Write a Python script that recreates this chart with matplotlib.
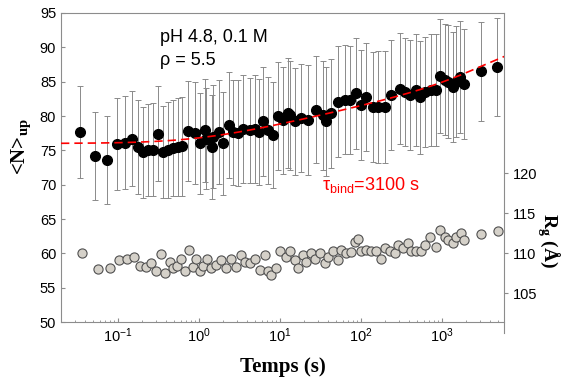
import numpy as np
import matplotlib.pyplot as plt

plt.rcParams['font.family'] = ['Liberation Sans', 'DejaVu Sans']
plt.rcParams['mathtext.fontset'] = 'custom'
plt.rcParams['mathtext.rm'] = 'Liberation Sans'
plt.rcParams['mathtext.bf'] = 'Liberation Serif:bold'

# <N>_up vs temps (points noirs + barres d'erreur)
t_n = [0.034, 0.053, 0.074, 0.097, 0.122, 0.150, 0.178, 0.208, 0.237, 0.276,
       0.318, 0.360, 0.418, 0.482, 0.55, 0.63, 0.74, 0.89, 1.03, 1.19,
       1.24, 1.46, 1.49, 1.78, 2.00, 2.37, 2.65, 3.06, 3.52, 4.27,
       4.91, 5.55, 6.22, 7.17, 8.27, 9.53, 11.0, 12.7, 13.3, 15.3,
       18.5, 22.4, 28.4, 34.3, 37.7, 43.5, 52.5, 63.4, 73.1, 88.5,
       102, 118, 142, 164, 198, 239, 303, 349, 403, 487,
       535, 617, 746, 861, 945, 1090, 1200, 1380, 1520, 1670,
       1880, 3090, 4880]
n_up = [77.6, 74.2, 73.6, 75.9, 76.1, 76.7, 75.5, 74.7, 75.0, 75.1,
        77.4, 74.7, 75.0, 75.4, 75.5, 75.6, 77.8, 77.5, 76.0, 77.9,
        76.7, 75.5, 77.0, 77.7, 76.0, 78.7, 77.6, 77.5, 78.1, 77.9,
        78.1, 77.7, 79.2, 77.9, 77.2, 80.0, 79.4, 80.4, 80.1, 79.2,
        79.7, 79.4, 80.9, 80.1, 79.2, 80.4, 82.1, 82.4, 82.3, 83.3,
        81.6, 82.8, 81.3, 81.3, 81.3, 83.0, 84.0, 83.5, 83.0, 83.8,
        82.7, 83.5, 83.8, 83.8, 85.8, 85.3, 85.0, 84.2, 85.0, 85.7,
        84.6, 86.5, 87.1]
n_err = [6.7, 6.4, 6.4, 6.7, 6.8, 6.9, 6.8, 6.6, 6.7, 6.8,
         6.9, 6.7, 7.0, 7.0, 7.1, 7.2, 7.3, 7.4, 7.3, 7.5,
         7.4, 7.6, 7.5, 7.6, 7.5, 7.7, 7.6, 7.7, 7.8, 7.6,
         7.8, 7.7, 7.9, 7.8, 7.7, 7.9, 7.8, 8.0, 7.9, 7.8,
         7.9, 8.0, 7.8, 7.9, 8.0, 7.9, 8.1, 8.0, 7.9, 8.1,
         8.0, 7.9, 8.0, 8.1, 8.2, 8.0, 8.1, 7.9, 8.0, 8.1,
         8.2, 8.0, 8.1, 8.2, 8.3, 8.1, 8.2, 8.0, 8.1, 8.2,
         8.0, 7.2, 7.1]

# Rg vs temps (points gris, axe de droite)
t_rg = [0.036, 0.057, 0.080, 0.104, 0.130, 0.159, 0.187, 0.226, 0.261, 0.300,
        0.340, 0.388, 0.439, 0.482, 0.546, 0.611, 0.672, 0.759, 0.851, 0.937,
        1.03, 1.13, 1.28, 1.41, 1.65, 1.91, 2.20, 2.53, 2.92, 3.37,
        3.70, 4.26, 4.91, 5.66, 6.53, 7.17, 7.90, 9.10, 10.2, 12.1,
        13.3, 15.3, 16.8, 19.4, 21.4, 24.6, 27.0, 31.2, 36.0, 39.5,
        45.5, 52.5, 57.8, 66.6, 76.7, 84.3, 92.7, 102, 118, 136,
        156, 180, 198, 228, 263, 289, 333, 384, 422, 487,
        561, 617, 711, 861, 945, 1090, 1200, 1380, 1520, 1750,
        1920, 3090, 4970]
rg = [110.0, 108.0, 108.1, 109.1, 109.2, 109.5, 108.4, 108.3, 108.8, 107.7,
      109.9, 107.5, 108.9, 108.1, 108.4, 109.3, 107.8, 110.4, 108.3, 109.2,
      107.7, 108.4, 109.3, 108.1, 108.5, 109.1, 108.1, 109.2, 108.3, 109.8,
      108.9, 108.7, 109.3, 107.9, 109.8, 107.7, 107.3, 108.1, 110.2, 109.5,
      110.2, 109.1, 108.1, 109.8, 108.9, 110.0, 109.3, 110.0, 108.8, 109.5,
      110.2, 109.1, 110.4, 110.0, 110.1, 111.4, 111.8, 110.2, 110.4, 110.2,
      110.2, 109.3, 110.6, 110.2, 110.0, 111.0, 110.6, 111.2, 110.2, 110.2,
      110.2, 111.0, 112.0, 110.7, 112.9, 112.0, 111.6, 111.2, 112.0, 112.5,
      111.6, 112.4, 112.8]

# paramètres de l'ajustement (ligne rouge)
n0, k_log, a_exp, tau_bind = 76.0, 2.7, 2.9, 3100.0

spine_col = '#8c8c8c'

fig = plt.figure(figsize=(5.65, 3.82), dpi=100)
ax = fig.add_axes([0.108, 0.157, 0.784, 0.809])
ax2 = fig.add_axes([0.108, 0.128, 0.784, 0.838])

ax.errorbar(t_n, n_up, yerr=n_err, fmt='o', color='black', ms=7,
            ecolor='#8a8a8a', elinewidth=0.7, capsize=2.5, capthick=0.7, zorder=3)

t_fit = np.logspace(np.log10(0.02), np.log10(6000), 300)
n_fit = n0 + k_log * np.log10(1 + t_fit) + a_exp * (1 - np.exp(-t_fit / tau_bind))
ax.plot(t_fit, n_fit, color='red', lw=1.2, ls=(0, (5, 3)), zorder=4)

ax.set_xscale('log')
ax.set_xlim(0.02, 5900)
ax.set_ylim(50, 95)
ax.set_yticks(np.arange(50, 96, 5))
ax.set_xticks([0.1, 1, 10, 100, 1000])
ax.tick_params(which='both', direction='in', color=spine_col, labelsize=10.5)
ax.tick_params(which='major', length=3)
ax.tick_params(which='minor', length=1.5)
ax.spines['right'].set_visible(False)
for s in ['left', 'top', 'bottom']:
    ax.spines[s].set_color(spine_col)

ax2.plot(t_rg, rg, 'o', mfc='#d5d1c9', mec='#505050', mew=0.8, ms=6.6, zorder=3)
ax2.set_xscale('log')
ax2.set_xlim(0.02, 5900)
ax2.set_ylim(100, 140)
ax2.set_yticks([105, 110, 115, 120])
ax2.patch.set_visible(False)
ax2.xaxis.set_visible(False)
ax2.yaxis.tick_right()
ax2.tick_params(axis='y', direction='out', length=3, color=spine_col, labelsize=10.5)
for s in ['left', 'top', 'bottom']:
    ax2.spines[s].set_visible(False)
ax2.spines['right'].set_color(spine_col)

fig.text(0.283, 0.891, 'pH 4.8, 0.1 M', fontsize=13, va='baseline')
fig.text(0.283, 0.830, 'ρ = 5.5', fontsize=13, va='baseline')
fig.text(0.570, 0.503, r'τ$_{\mathrm{bind}}$=3100 s', fontsize=13, color='red', va='baseline')

fig.text(0.501, 0.026, 'Temps (s)', ha='center', va='baseline',
         family='Liberation Serif', weight='bold', fontsize=15)
fig.text(0.039, 0.615, r'<N>$_{\mathbf{up}}$', rotation=90, ha='center', va='center',
         family='Liberation Serif', weight='bold', fontsize=15)
fig.text(0.970, 0.37, r'R$_{\mathbf{g}}$ (Å)', rotation=-90, ha='center', va='center',
         family='Liberation Serif', weight='bold', fontsize=14)

fig.savefig('out.png', dpi=100)
